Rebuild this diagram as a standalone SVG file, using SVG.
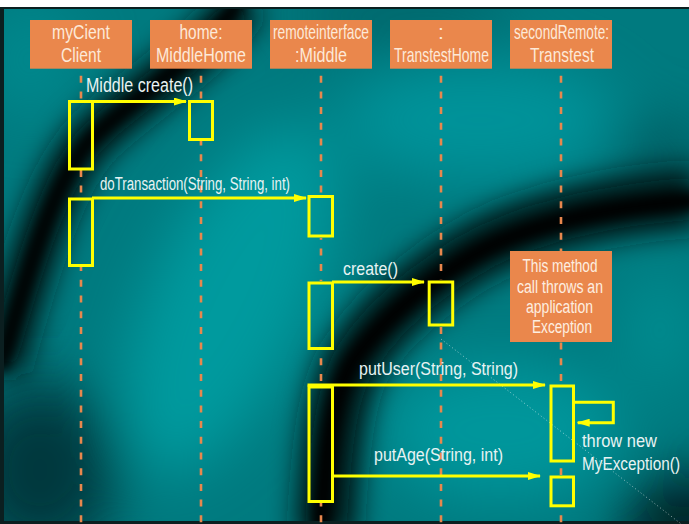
<svg xmlns="http://www.w3.org/2000/svg" width="689" height="524" viewBox="0 0 689 524">
<style>
.hdr{fill:#ea874c}
.ht{font-family:"Liberation Sans",Arial,sans-serif;font-size:21px;fill:#fde9d8;text-anchor:middle}
.lt{font-family:"Liberation Sans",Arial,sans-serif;font-size:18px;fill:#e8f3f3}
.nt{font-family:"Liberation Sans",Arial,sans-serif;font-size:18px;fill:#fdeee0;text-anchor:middle}
.life{stroke:#e8874d;stroke-width:2.6;stroke-dasharray:7 8.7;fill:none}
.act{fill:none;stroke:#ffff00;stroke-width:3}
.msg{fill:none;stroke:#ffff00;stroke-width:3;marker-end:url(#ah)}
</style>
<defs>
<marker id="ah" viewBox="0 0 13 8" refX="12" refY="4" markerWidth="13" markerHeight="8" markerUnits="userSpaceOnUse" orient="auto">
<path d="M0,0 L13,4 L0,8 z" fill="#ffff00"/>
</marker>
<filter id="blurL" x="-50%" y="-50%" width="200%" height="200%"><feGaussianBlur stdDeviation="30"/></filter>
<filter id="blurM" x="-50%" y="-50%" width="200%" height="200%"><feGaussianBlur stdDeviation="14"/></filter>
<filter id="blurS" x="-50%" y="-50%" width="200%" height="200%"><feGaussianBlur stdDeviation="6"/></filter>
<clipPath id="bgclip"><rect x="4" y="9" width="685" height="512"/></clipPath>
<mask id="lm" maskUnits="userSpaceOnUse" x="0" y="0" width="689" height="524">
<rect x="0" y="0" width="689" height="524" fill="#fff"/>
<g fill="#000">
<rect x="68" y="100" width="26" height="70"/>
<rect x="188" y="100" width="26" height="41"/>
<rect x="68" y="197" width="26" height="70"/>
<rect x="307" y="195" width="28" height="43"/>
<rect x="307" y="281" width="28" height="69"/>
<rect x="427" y="280" width="28" height="47"/>
<rect x="307" y="384" width="28" height="119"/>
<rect x="549" y="384" width="26" height="78"/>
<rect x="549" y="475" width="26" height="33"/>
<rect x="510" y="251" width="102" height="91"/>
</g>
</mask>
</defs>

<g id="background">
<rect x="0" y="0" width="689" height="524" fill="#ffffff"/>
<rect x="0" y="7" width="689" height="517" fill="#0b1f20"/>
<g clip-path="url(#bgclip)">
<rect x="0" y="0" width="689" height="524" fill="#007a7f"/>
<g filter="url(#blurL)">
<ellipse cx="230" cy="300" rx="80" ry="190" fill="#009a9e" transform="rotate(25 230 300)"/>
<ellipse cx="480" cy="120" rx="140" ry="60" fill="#00939a"/>
<ellipse cx="500" cy="430" rx="120" ry="70" fill="#00969b"/>
<ellipse cx="660" cy="330" rx="40" ry="60" fill="#008c90"/>
<ellipse cx="30" cy="60" rx="50" ry="60" fill="#00888d"/>
<ellipse cx="40" cy="470" rx="80" ry="90" fill="#00393c"/>
<ellipse cx="689" cy="524" rx="70" ry="50" fill="#001e20"/>
<ellipse cx="400" cy="15" rx="120" ry="25" fill="#006065"/>
<ellipse cx="660" cy="160" rx="50" ry="40" fill="#005a5e"/>
</g>
<g filter="url(#blurM)" fill="none">
<path d="M245,0 C200,60 130,100 90,140 C55,180 30,260 0,370" stroke="#001819" stroke-width="46"/>
<path d="M700,198 C600,205 520,225 470,255 C420,285 380,320 355,360 C335,395 330,450 325,540" stroke="#001819" stroke-width="60"/>
</g>
<g filter="url(#blurS)" fill="none">
<path d="M240,0 C200,60 130,100 90,140 C55,180 30,260 0,370" stroke="#000000" stroke-width="14"/>
<path d="M700,200 C600,207 520,227 470,257 C420,287 380,322 352,362 C332,397 326,450 320,540" stroke="#000000" stroke-width="18"/>
</g>
</g>
<line x1="441" y1="339" x2="689" y2="530" stroke="#ffffff" stroke-width="1" stroke-dasharray="1 2.5" opacity="0.55"/>
</g>

<g id="myCient">
<rect class="hdr" x="30" y="20" width="102" height="48.7"/>
<text class="ht" x="81" y="38.5" textLength="58" lengthAdjust="spacingAndGlyphs">myCient</text>
<text class="ht" x="81" y="61.5" textLength="40" lengthAdjust="spacingAndGlyphs">Client</text>
<line class="life" x1="81" y1="75.7" x2="81" y2="524" mask="url(#lm)"/>
<rect class="act" x="69.5" y="101.5" width="23" height="67.5"/>
<rect class="act" x="69.5" y="199" width="23" height="66.5"/>
</g>

<g id="home">
<rect class="hdr" x="150" y="20" width="102" height="48.7"/>
<text class="ht" x="201" y="38.5" textLength="43" lengthAdjust="spacingAndGlyphs">home:</text>
<text class="ht" x="201" y="61.5" textLength="90" lengthAdjust="spacingAndGlyphs">MiddleHome</text>
<line class="life" x1="201" y1="75.7" x2="201" y2="524" mask="url(#lm)"/>
<rect class="act" x="189.5" y="101.5" width="23" height="38"/>
</g>

<g id="remoteinterface">
<rect class="hdr" x="270" y="20" width="102" height="48.7"/>
<text class="ht" x="321" y="38.5" textLength="96" lengthAdjust="spacingAndGlyphs">remoteinterface</text>
<text class="ht" x="321" y="61.5" textLength="52" lengthAdjust="spacingAndGlyphs">:Middle</text>
<line class="life" x1="321" y1="75.7" x2="321" y2="524" mask="url(#lm)"/>
<rect class="act" x="309" y="196.5" width="23.5" height="39.5"/>
<rect class="act" x="309" y="283" width="23.5" height="65.5"/>
<rect class="act" x="309" y="387" width="23.5" height="114.5"/>
</g>

<g id="transtestHome">
<rect class="hdr" x="390" y="20" width="102" height="48.7"/>
<text class="ht" x="441" y="38.5">:</text>
<text class="ht" x="441.5" y="61.5" textLength="95" lengthAdjust="spacingAndGlyphs">TranstestHome</text>
<line class="life" x1="441" y1="75.7" x2="441" y2="524" mask="url(#lm)"/>
<rect class="act" x="429.2" y="282" width="23.5" height="43"/>
</g>

<g id="secondRemote">
<rect class="hdr" x="510" y="20" width="102" height="48.7"/>
<text class="ht" x="561.5" y="38.5" textLength="95" lengthAdjust="spacingAndGlyphs">secondRemote:</text>
<text class="ht" x="562" y="61.5" textLength="64" lengthAdjust="spacingAndGlyphs">Transtest</text>
<line class="life" x1="561" y1="75.7" x2="561" y2="524" mask="url(#lm)"/>
<rect class="act" x="551" y="386" width="22.5" height="75"/>
<rect class="act" x="551" y="477" width="22.5" height="28.8"/>
</g>

<g id="note">
<rect class="hdr" x="510" y="251" width="102" height="91"/>
<text class="nt" x="560" y="272" textLength="75" lengthAdjust="spacingAndGlyphs">This method</text>
<text class="nt" x="560" y="292.5" textLength="86" lengthAdjust="spacingAndGlyphs">call throws an</text>
<text class="nt" x="559.5" y="312.5" textLength="67" lengthAdjust="spacingAndGlyphs">application</text>
<text class="nt" x="562" y="333" textLength="60" lengthAdjust="spacingAndGlyphs">Exception</text>
</g>

<g id="connectors">
<path class="msg" d="M92,101.5 H186"/>
<path class="msg" d="M92,198 H306"/>
<path class="msg" d="M332,282 H424"/>
<path class="msg" d="M307.5,385 H545"/>
<path class="msg" d="M332,476 H540"/>
<path class="msg" d="M573,402.3 H613.3 V422.7 H577.7"/>
<text class="lt" x="86" y="92" textLength="107" lengthAdjust="spacingAndGlyphs" style="font-size:19.5px">Middle create()</text>
<text class="lt" x="100" y="190" textLength="190" lengthAdjust="spacingAndGlyphs">doTransaction(String, String, int)</text>
<text class="lt" x="343" y="274.5" textLength="55" lengthAdjust="spacingAndGlyphs">create()</text>
<text class="lt" x="359" y="375" textLength="159" lengthAdjust="spacingAndGlyphs">putUser(String, String)</text>
<text class="lt" x="374" y="461" textLength="129" lengthAdjust="spacingAndGlyphs">putAge(String, int)</text>
<text class="lt" x="582" y="447" textLength="75" lengthAdjust="spacingAndGlyphs">throw new</text>
<text class="lt" x="582" y="470" textLength="98" lengthAdjust="spacingAndGlyphs">MyException()</text>
</g>
</svg>
